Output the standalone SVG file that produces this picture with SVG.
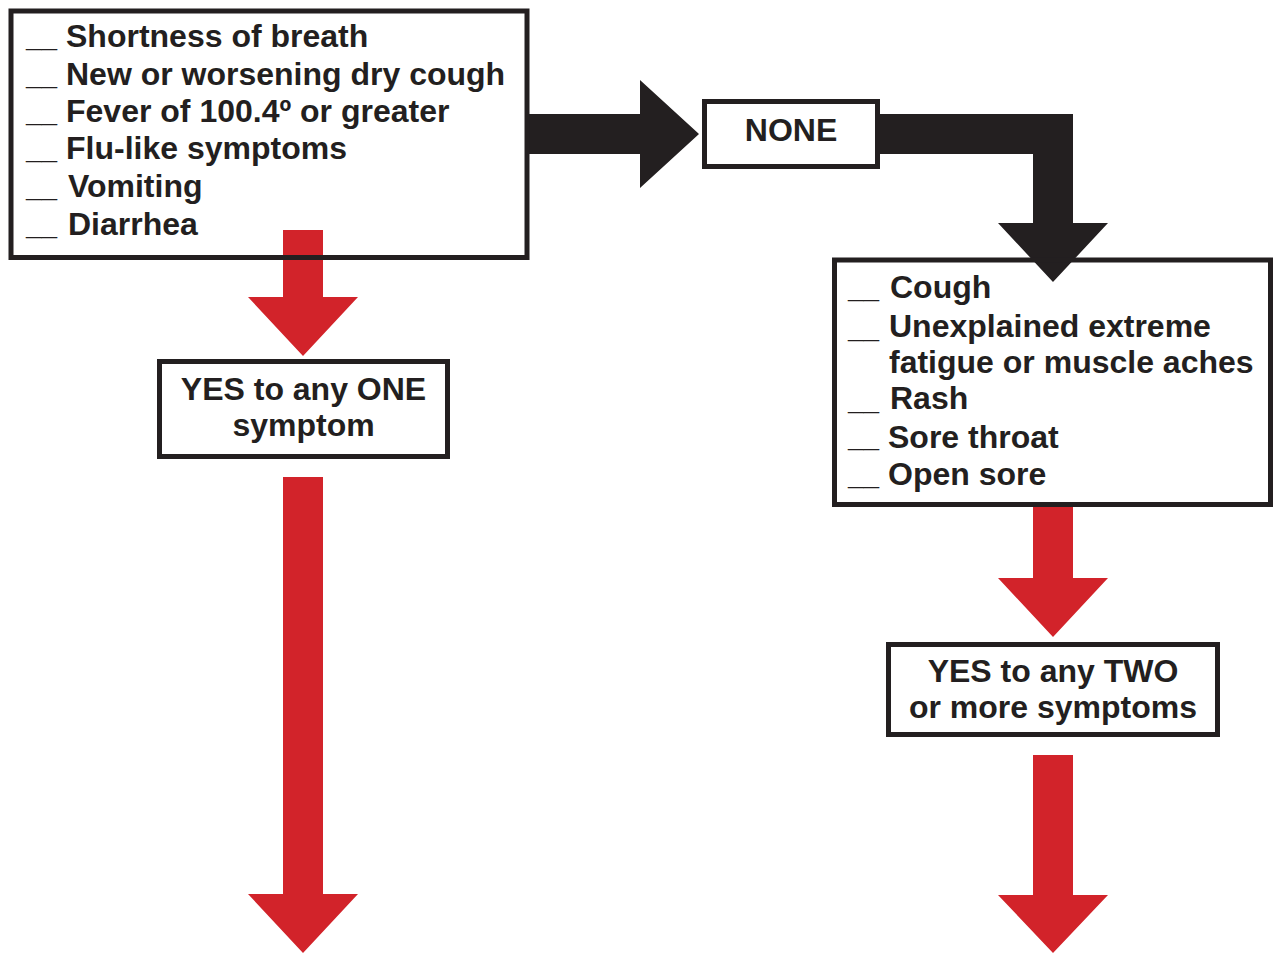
<svg xmlns="http://www.w3.org/2000/svg" width="1274" height="953" viewBox="0 0 1274 953">
<style>
.box{fill:none;stroke:#231f20;stroke-width:5}
.blk{fill:#231f20}
.red{fill:#d2232a}
text{font-family:"Liberation Sans",Arial,Helvetica,sans-serif;font-weight:bold;fill:#231f20;font-size:32px}
.u{font-size:28px}
.c{text-anchor:middle}
</style>
<rect x="0" y="0" width="1274" height="953" fill="#ffffff"/>
<g id="connectors">
<polygon class="red" points="283,230 323,230 323,297 358,297 303,356 248,297 283,297"/>
<polygon class="red" points="283,477 323,477 323,894 358,894 303,953 248,894 283,894"/>
<polygon class="red" points="1033,507 1073,507 1073,578 1108,578 1053,637 998,578 1033,578"/>
<polygon class="red" points="1033,755 1073,755 1073,895 1108,895 1053,953 998,895 1033,895"/>
<polygon class="blk" points="527,114 640,114 640,80 699,134 640,188 640,154 527,154"/>
<polygon class="blk" points="878,114 1073,114 1073,223 1108,223 1053,282 998,223 1033,223 1033,154 878,154"/>
</g>
<g id="node-primary">
<rect class="box" x="11" y="11" width="516" height="246.5"/>
<text class="u" x="26" y="47">__</text><text x="66" y="47">Shortness of breath</text>
<text class="u" x="26" y="85">__</text><text x="66" y="85">New or worsening dry cough</text>
<text class="u" x="26" y="122">__</text><text x="66" y="122">Fever of 100.4º or greater</text>
<text class="u" x="26" y="159">__</text><text x="66" y="159">Flu-like symptoms</text>
<text class="u" x="26" y="197">__</text><text x="68" y="197">Vomiting</text>
<text class="u" x="26" y="235">__</text><text x="68" y="235">Diarrhea</text>
</g>
<g id="node-none">
<rect class="box" x="704.5" y="101.5" width="173" height="65"/>
<text class="c" x="791" y="141">NONE</text>
</g>
<g id="node-yes-one">
<rect class="box" x="159.5" y="361.5" width="288" height="95"/>
<text class="c" x="303.5" y="400">YES to any ONE</text>
<text class="c" x="303.5" y="436">symptom</text>
</g>
<g id="node-secondary">
<rect class="box" x="834.5" y="260" width="436" height="244.5"/>
<text class="u" x="848" y="297.5">__</text><text x="890" y="298">Cough</text>
<text class="u" x="848" y="337.5">__</text><text x="889" y="337">Unexplained extreme</text>
<text x="889" y="373">fatigue or muscle aches</text>
<text class="u" x="848" y="409.5">__</text><text x="890" y="409">Rash</text>
<text class="u" x="848" y="446.5">__</text><text x="888" y="448">Sore throat</text>
<text class="u" x="848" y="484.5">__</text><text x="888" y="485">Open sore</text>
</g>
<g id="node-yes-two">
<rect class="box" x="888.5" y="644.5" width="329" height="90"/>
<text class="c" x="1053" y="682">YES to any TWO</text>
<text class="c" x="1053" y="718">or more symptoms</text>
</g>
</svg>
